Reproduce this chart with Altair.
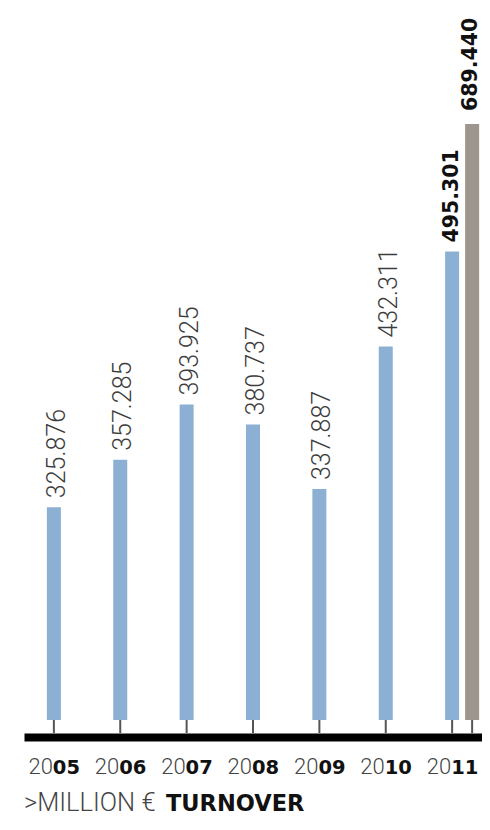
import altair as alt
import pandas as pd

# ---- data ----
years = ["2005", "2006", "2007", "2008", "2009", "2010", "2011"]
turnover = [325.876, 357.285, 393.925, 380.737, 337.887, 432.311, 495.301]
group_years = ["2011"]
group_turnover = [689.440]
title_light = ">MILLION €"
title_bold = "TURNOVER"

# ---- layout / style ----
W, H = 458, 700
BLUE = "#8cafd4"
GREY = "#9d968e"
Y_MIN, Y_MAX = 184.75, 648.85
G_MAX = 809.76

df = pd.DataFrame({"year": years, "value": turnover})
dg = pd.DataFrame({"year": group_years, "value": group_turnover})

x = alt.X(
    "year:N",
    scale=alt.Scale(domain=years, paddingInner=0.5, paddingOuter=0.2),
    axis=alt.Axis(labels=False, ticks=False, title=None, domainColor="black",
                  domainWidth=8, offset=17, grid=False),
)
yb = alt.Y("value:Q", scale=alt.Scale(domain=[Y_MIN, Y_MAX], zero=False, nice=False), axis=None)
yg = alt.Y("value:Q", scale=alt.Scale(domain=[0, G_MAX], nice=False), axis=None)

base = alt.Chart(df)

blue_bars = base.mark_bar(width=14, color=BLUE).encode(x=x, y=yb, y2=alt.datum(Y_MIN))
ticks = base.mark_rule(color="#555555", strokeWidth=2).encode(
    x=x, y=alt.value(H), y2=alt.value(H + 13))

light_labels = base.transform_filter(alt.datum.year != "2011").mark_text(
    angle=270, align="left", baseline="middle", dx=9, dy=3,
    font="Roboto", fontSize=25, fontWeight=300, color="#3c3c3c",
).encode(x=x, y=yb, text=alt.Text("value:Q", format=".3f"))

bold_label = base.transform_filter(alt.datum.year == "2011").mark_text(
    angle=270, align="left", baseline="middle", dx=9, dy=0,
    font="DejaVu Sans", fontSize=20.5, fontWeight="bold", color="#111111",
).encode(x=x, y=yb, text=alt.Text("value:Q", format=".3f"))

gbase = alt.Chart(dg)
grey_bar = gbase.mark_bar(width=14, xOffset=20, color=GREY).encode(
    x=x, y=yg, y2=alt.datum(0))
grey_tick = gbase.mark_rule(color="#555555", strokeWidth=2, xOffset=20).encode(
    x=x, y=alt.value(H), y2=alt.value(H + 13))
grey_label = gbase.mark_text(
    angle=270, align="left", baseline="middle", dx=13, dy=19,
    font="DejaVu Sans", fontSize=20.5, fontWeight="bold", color="#111111",
).encode(x=x, y=yg, text=alt.Text("value:Q", format=".3f"))

yl = base.transform_calculate(pre="substring(datum.year, 0, 2)",
                              suf="substring(datum.year, 2, 4)")
year_pre = yl.mark_text(
    align="right", baseline="alphabetic", dx=-1,
    font="Roboto", fontSize=22, fontWeight=300, color="#444444",
).encode(x=x, y=alt.value(H + 54), text="pre:N")
year_suf = yl.mark_text(
    align="left", baseline="alphabetic", dx=-1,
    font="DejaVu Sans", fontSize=19.5, fontWeight="bold", color="#111111",
).encode(x=x, y=alt.value(H + 54), text="suf:N")

t1 = alt.Chart(pd.DataFrame({"t": [title_light]})).mark_text(
    align="left", baseline="alphabetic", font="Roboto", fontSize=25.5,
    fontWeight=300, color="#444444",
).encode(x=alt.value(0), y=alt.value(H + 91), text="t:N")
t2 = alt.Chart(pd.DataFrame({"t": [title_bold]})).mark_text(
    align="left", baseline="alphabetic", font="DejaVu Sans", fontSize=22.5,
    fontWeight="bold", color="#111111",
).encode(x=alt.value(142), y=alt.value(H + 91), text="t:N")

chart = alt.layer(
    blue_bars, ticks, light_labels, bold_label,
    grey_bar, grey_tick, grey_label,
    year_pre, year_suf, t1, t2,
).resolve_scale(y="independent").properties(
    width=W, height=H,
    autosize=alt.AutoSizeParams(type="none"),
    padding={"left": 16, "top": 12, "right": 0, "bottom": 98},
).configure_view(stroke=None)

chart.save("out.html", embed_options={"renderer": "svg", "actions": False})
